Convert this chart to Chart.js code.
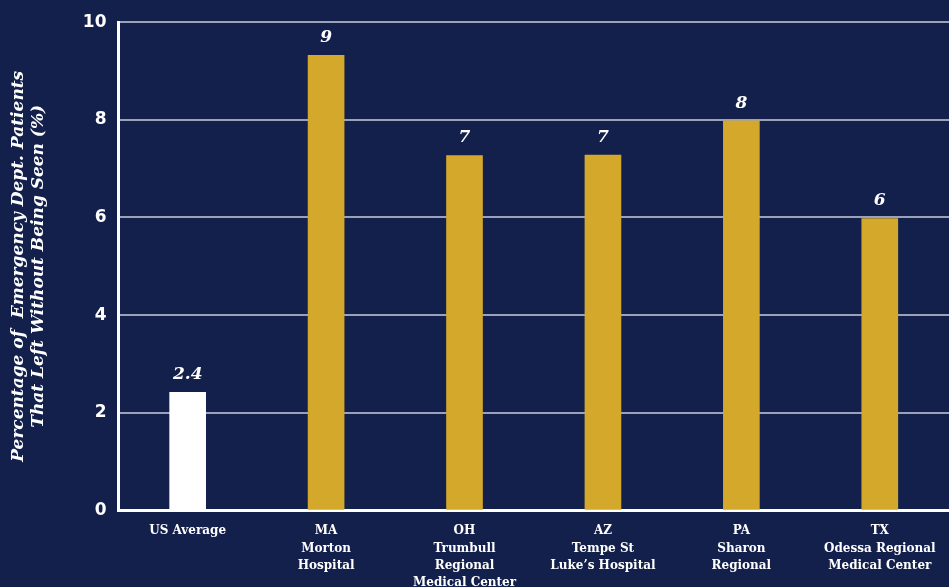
<!DOCTYPE html>
<html>
<head>
<meta charset="utf-8">
<script src="https://cdn.jsdelivr.net/npm/chart.js@4"></script>
<style>
  html, body { margin: 0; padding: 0; background: #13204b; }
  #wrap { width: 949px; height: 587px; }
</style>
</head>
<body>
<div id="wrap"><canvas id="lwbsChart"></canvas></div>
<script>
// Data
const hospitals = [
    ['US Average'],
    ['MA', 'Morton', 'Hospital'],
    ['OH', 'Trumbull', 'Regional', 'Medical Center'],
    ['AZ', 'Tempe St', 'Luke\u2019s Hospital'],
    ['PA', 'Sharon', 'Regional'],
    ['TX', 'Odessa Regional', 'Medical Center']
];
const leftPct = [2.42, 9.32, 7.27, 7.28, 7.98, 5.98];
const shownLabels = ['2.4', '9', '7', '7', '8', '6'];
const yTicks = [0, 2, 4, 6, 8, 10];

const gold = '#d4a82a';
const barColors = leftPct.map((v, i) => i === 0 ? '#ffffff' : gold);

// Nilai di atas batang
const valueLabels = {
    id: 'valueLabels',
    afterDatasetsDraw(chart) {
        const { ctx } = chart;
        const meta = chart.getDatasetMeta(0);
        ctx.save();
        ctx.fillStyle = '#ffffff';
        ctx.font = 'italic bold 17px "DejaVu Serif"';
        ctx.textAlign = 'center';
        ctx.textBaseline = 'bottom';
        meta.data.forEach((bar, i) => {
            ctx.fillText(shownLabels[i], bar.x, bar.y - 9);
        });
        ctx.restore();
    }
};

const ctx = document.getElementById('lwbsChart').getContext('2d');
new Chart(ctx, {
    type: 'bar',
    data: {
        labels: hospitals,
        datasets: [{
            data: leftPct,
            backgroundColor: barColors,
            barThickness: 36
        }]
    },
    options: {
        responsive: true,
        maintainAspectRatio: false,
        animation: false,
        layout: { padding: { top: 0, left: 4, right: 0, bottom: -17 } },
        plugins: {
            legend: { display: false },
            tooltip: { enabled: false }
        },
        scales: {
            x: {
                grid: { display: false, drawTicks: false },
                border: { color: '#ffffff', width: 3 },
                ticks: {
                    color: '#ffffff',
                    padding: 12,
                    maxRotation: 0,
                    autoSkip: false,
                    font: { family: '"DejaVu Serif"', weight: 'bold', size: 12, lineHeight: 1.45 }
                }
            },
            y: {
                min: 0,
                max: 10,
                afterBuildTicks: axis => { axis.ticks = yTicks.map(v => ({ value: v })); },
                grid: { color: '#9ca0b8', lineWidth: 2, drawTicks: false },
                border: { color: '#ffffff', width: 3 },
                ticks: {
                    color: '#ffffff',
                    padding: 12,
                    font: { family: '"DejaVu Sans"', weight: 'bold', size: 17 }
                },
                title: {
                    display: true,
                    text: ['Percentage of  Emergency Dept. Patients', 'That Left Without Being Seen (%)'],
                    color: '#ffffff',
                    padding: { bottom: 22 },
                    font: { family: '"DejaVu Serif"', style: 'italic', weight: 'bold', size: 17, lineHeight: 1.2 }
                }
            }
        }
    },
    plugins: [valueLabels]
});
</script>
</body>
</html>
